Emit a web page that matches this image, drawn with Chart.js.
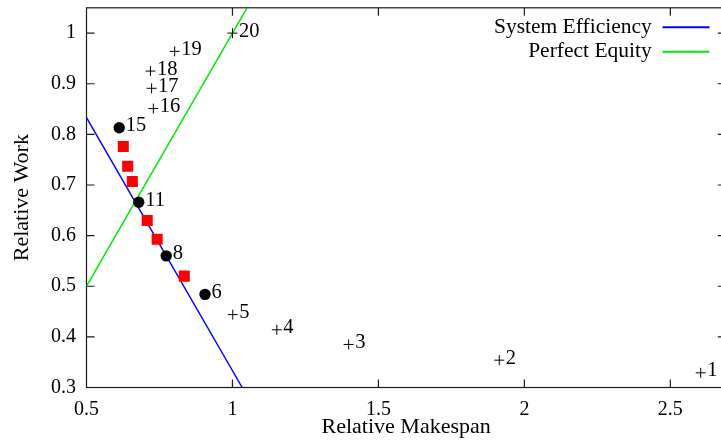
<!DOCTYPE html>
<html><head><meta charset="utf-8">
<script src="https://cdn.jsdelivr.net/npm/chart.js@4.4.1/dist/chart.umd.min.js"></script>
<style>
html,body{margin:0;padding:0;overflow:hidden;background:#fff;width:721px;height:445px}
#wrap{position:absolute;left:0;top:0;width:735px;height:445px}
</style>
</head><body><div id="wrap"><canvas id="c"></canvas></div>
<script>
// ---- data ----
const xTicks = [0.5, 1, 1.5, 2, 2.5];
const xTickLabels = ['0.5', '1', '1.5', '2', '2.5'];
const yTicks = [0.3, 0.4, 0.5, 0.6, 0.7, 0.8, 0.9, 1];
const yTickLabels = ['0.3', '0.4', '0.5', '0.6', '0.7', '0.8', '0.9', '1'];

const efficiencyX = [0.5, 1.0333];
const efficiencyY = [0.8333, 0.3];
const equityX = [0.5, 1.05];
const equityY = [0.5, 1.05];

const plusX = [2.604, 1.914, 1.398, 1.152, 1.001, 0.729, 0.723, 0.719, 0.802, 1.000];
const plusY = [0.329, 0.354, 0.385, 0.414, 0.444, 0.851, 0.891, 0.925, 0.964, 1.000];
const plusLabels = ['1', '2', '3', '4', '5', '16', '17', '18', '19', '20'];

const circleX = [0.906, 0.773, 0.679, 0.612];
const circleY = [0.484, 0.560, 0.666, 0.813];
const circleLabels = ['6', '8', '11', '15'];

const squareX = [0.835, 0.742, 0.708, 0.657, 0.641, 0.626];
const squareY = [0.520, 0.593, 0.630, 0.707, 0.737, 0.776];

const seriesNames = ['System Efficiency', 'Perfect Equity'];
const xTitle = 'Relative Makespan';
const yTitle = 'Relative Work';

// ---- helpers ----
const FONT = '"Liberation Serif", "DejaVu Serif", serif';
const pts = (xs, ys) => xs.map((v, i) => ({x: v, y: ys[i]}));

const frameTicks = {
  id: 'frameTicks',
  beforeDatasetsDraw(chart) {
    const {ctx, chartArea: a, scales: {x, y}} = chart;
    const L = 8;
    ctx.save();
    ctx.strokeStyle = '#1a1a1a';
    ctx.lineWidth = 1.2;
    ctx.strokeRect(a.left, a.top, a.right - a.left, a.bottom - a.top);
    ctx.beginPath();
    xTicks.forEach(v => {
      const px = x.getPixelForValue(v);
      if (px <= a.left + 1) return;
      ctx.moveTo(px, a.bottom); ctx.lineTo(px, a.bottom - L);
      ctx.moveTo(px, a.top); ctx.lineTo(px, a.top + L);
    });
    yTicks.forEach(v => {
      const py = y.getPixelForValue(v);
      if (py >= a.bottom - 1) return;
      ctx.moveTo(a.left, py); ctx.lineTo(a.left + L, py);
      ctx.moveTo(a.right, py); ctx.lineTo(a.right - L, py);
    });
    ctx.stroke();
    ctx.restore();
  }
};

const pointLabelsPlugin = {
  id: 'pointLabelsPlugin',
  afterDatasetsDraw(chart) {
    const {ctx} = chart;
    ctx.save();
    ctx.fillStyle = '#000';
    ctx.font = '20.5px ' + FONT;
    ctx.textAlign = 'left';
    ctx.textBaseline = 'alphabetic';
    chart.data.datasets.forEach((ds, i) => {
      if (!ds.pointLabels) return;
      const meta = chart.getDatasetMeta(i);
      meta.data.forEach((el, j) => {
        ctx.fillText(ds.pointLabels[j], el.x + 6.5, el.y + 3.5);
      });
    });
    ctx.restore();
  }
};

const legendPlace = {
  id: 'legendPlace',
  afterLayout(chart) {
    const lg = chart.legend;
    if (!lg) return;
    const pad = lg.options.labels.padding;
    const right = 709.5 + pad;
    const top = 13.5;
    const w = lg.width, h = lg.height;
    lg.left = right - w; lg.right = right;
    lg.top = top; lg.bottom = top + h;
  }
};

new Chart(document.getElementById('c'), {
  type: 'scatter',
  data: {
    datasets: [
      { label: seriesNames[0], data: pts(efficiencyX, efficiencyY), showLine: true,
        borderColor: '#0000ff', backgroundColor: '#0000ff', borderWidth: 1.5, pointRadius: 0, order: 5 },
      { label: seriesNames[1], data: pts(equityX, equityY), showLine: true,
        borderColor: '#00e800', backgroundColor: '#00e800', borderWidth: 1.5, pointRadius: 0, order: 5 },
      { label: 'plus', data: pts(plusX, plusY), pointLabels: plusLabels, pointStyle: 'cross',
        pointRadius: 5, borderColor: '#000', backgroundColor: '#000', borderWidth: 1, order: 0 },
      { label: 'circle', data: pts(circleX, circleY), pointLabels: circleLabels, pointStyle: 'circle',
        pointRadius: 5.7, borderColor: '#000', backgroundColor: '#000', borderWidth: 0, order: 0 },
      { label: 'square', data: pts(squareX, squareY), pointStyle: 'rect',
        pointRadius: 7.8, borderColor: '#ff0000', backgroundColor: '#ff0000', borderWidth: 0, order: 0 }
    ]
  },
  options: {
    responsive: true,
    maintainAspectRatio: false,
    animation: false,
    events: [],
    layout: { padding: { top: 5.5, right: 9.2, left: 0, bottom: 0 } },
    scales: {
      x: {
        type: 'linear', min: 0.5, max: 2.69,
        grid: { display: false, drawTicks: false },
        border: { display: false },
        afterBuildTicks: s => { s.ticks = xTicks.map(v => ({value: v})); },
        afterFit: s => { s.height = 57.5; s.paddingLeft = 0; s.paddingRight = 0; s.paddingTop = 0; s.paddingBottom = 0; },
        ticks: { color: '#000', padding: 10, font: { family: FONT, size: 20 },
          maxRotation: 0, autoSkip: false,
          callback: v => xTickLabels[xTicks.indexOf(v)] },
        title: { display: true, text: xTitle, color: '#000', font: { family: FONT, size: 22 },
          padding: { top: 0, bottom: 5 } }
      },
      y: {
        type: 'linear', min: 0.3, max: 1.05,
        grid: { display: false, drawTicks: false },
        border: { display: false },
        afterBuildTicks: s => { s.ticks = yTicks.map(v => ({value: v})); },
        afterFit: s => { s.width = 86.5; s.paddingLeft = 0; s.paddingRight = 0; s.paddingTop = 0; s.paddingBottom = 0; },
        ticks: { color: '#000', padding: 10.5, font: { family: FONT, size: 20 }, autoSkip: false,
          callback: v => yTickLabels[yTicks.indexOf(v)] },
        title: { display: true, text: yTitle, color: '#000', font: { family: FONT, size: 22 },
          padding: { top: 9, bottom: 0 } }
      }
    },
    plugins: {
      tooltip: { enabled: false },
      legend: {
        display: true, position: 'chartArea', align: 'start', rtl: true,
        labels: {
          boxWidth: 47, boxHeight: 2, padding: 3, color: '#000',
          font: { family: FONT, size: 21.5 },
          generateLabels: chart => Chart.defaults.plugins.legend.labels.generateLabels(chart)
            .filter(l => l.datasetIndex < 2)
            .map(l => Object.assign(l, { lineWidth: 0, fillStyle: l.strokeStyle }))
        }
      }
    }
  },
  plugins: [frameTicks, pointLabelsPlugin, legendPlace]
});
</script>
</body></html>
